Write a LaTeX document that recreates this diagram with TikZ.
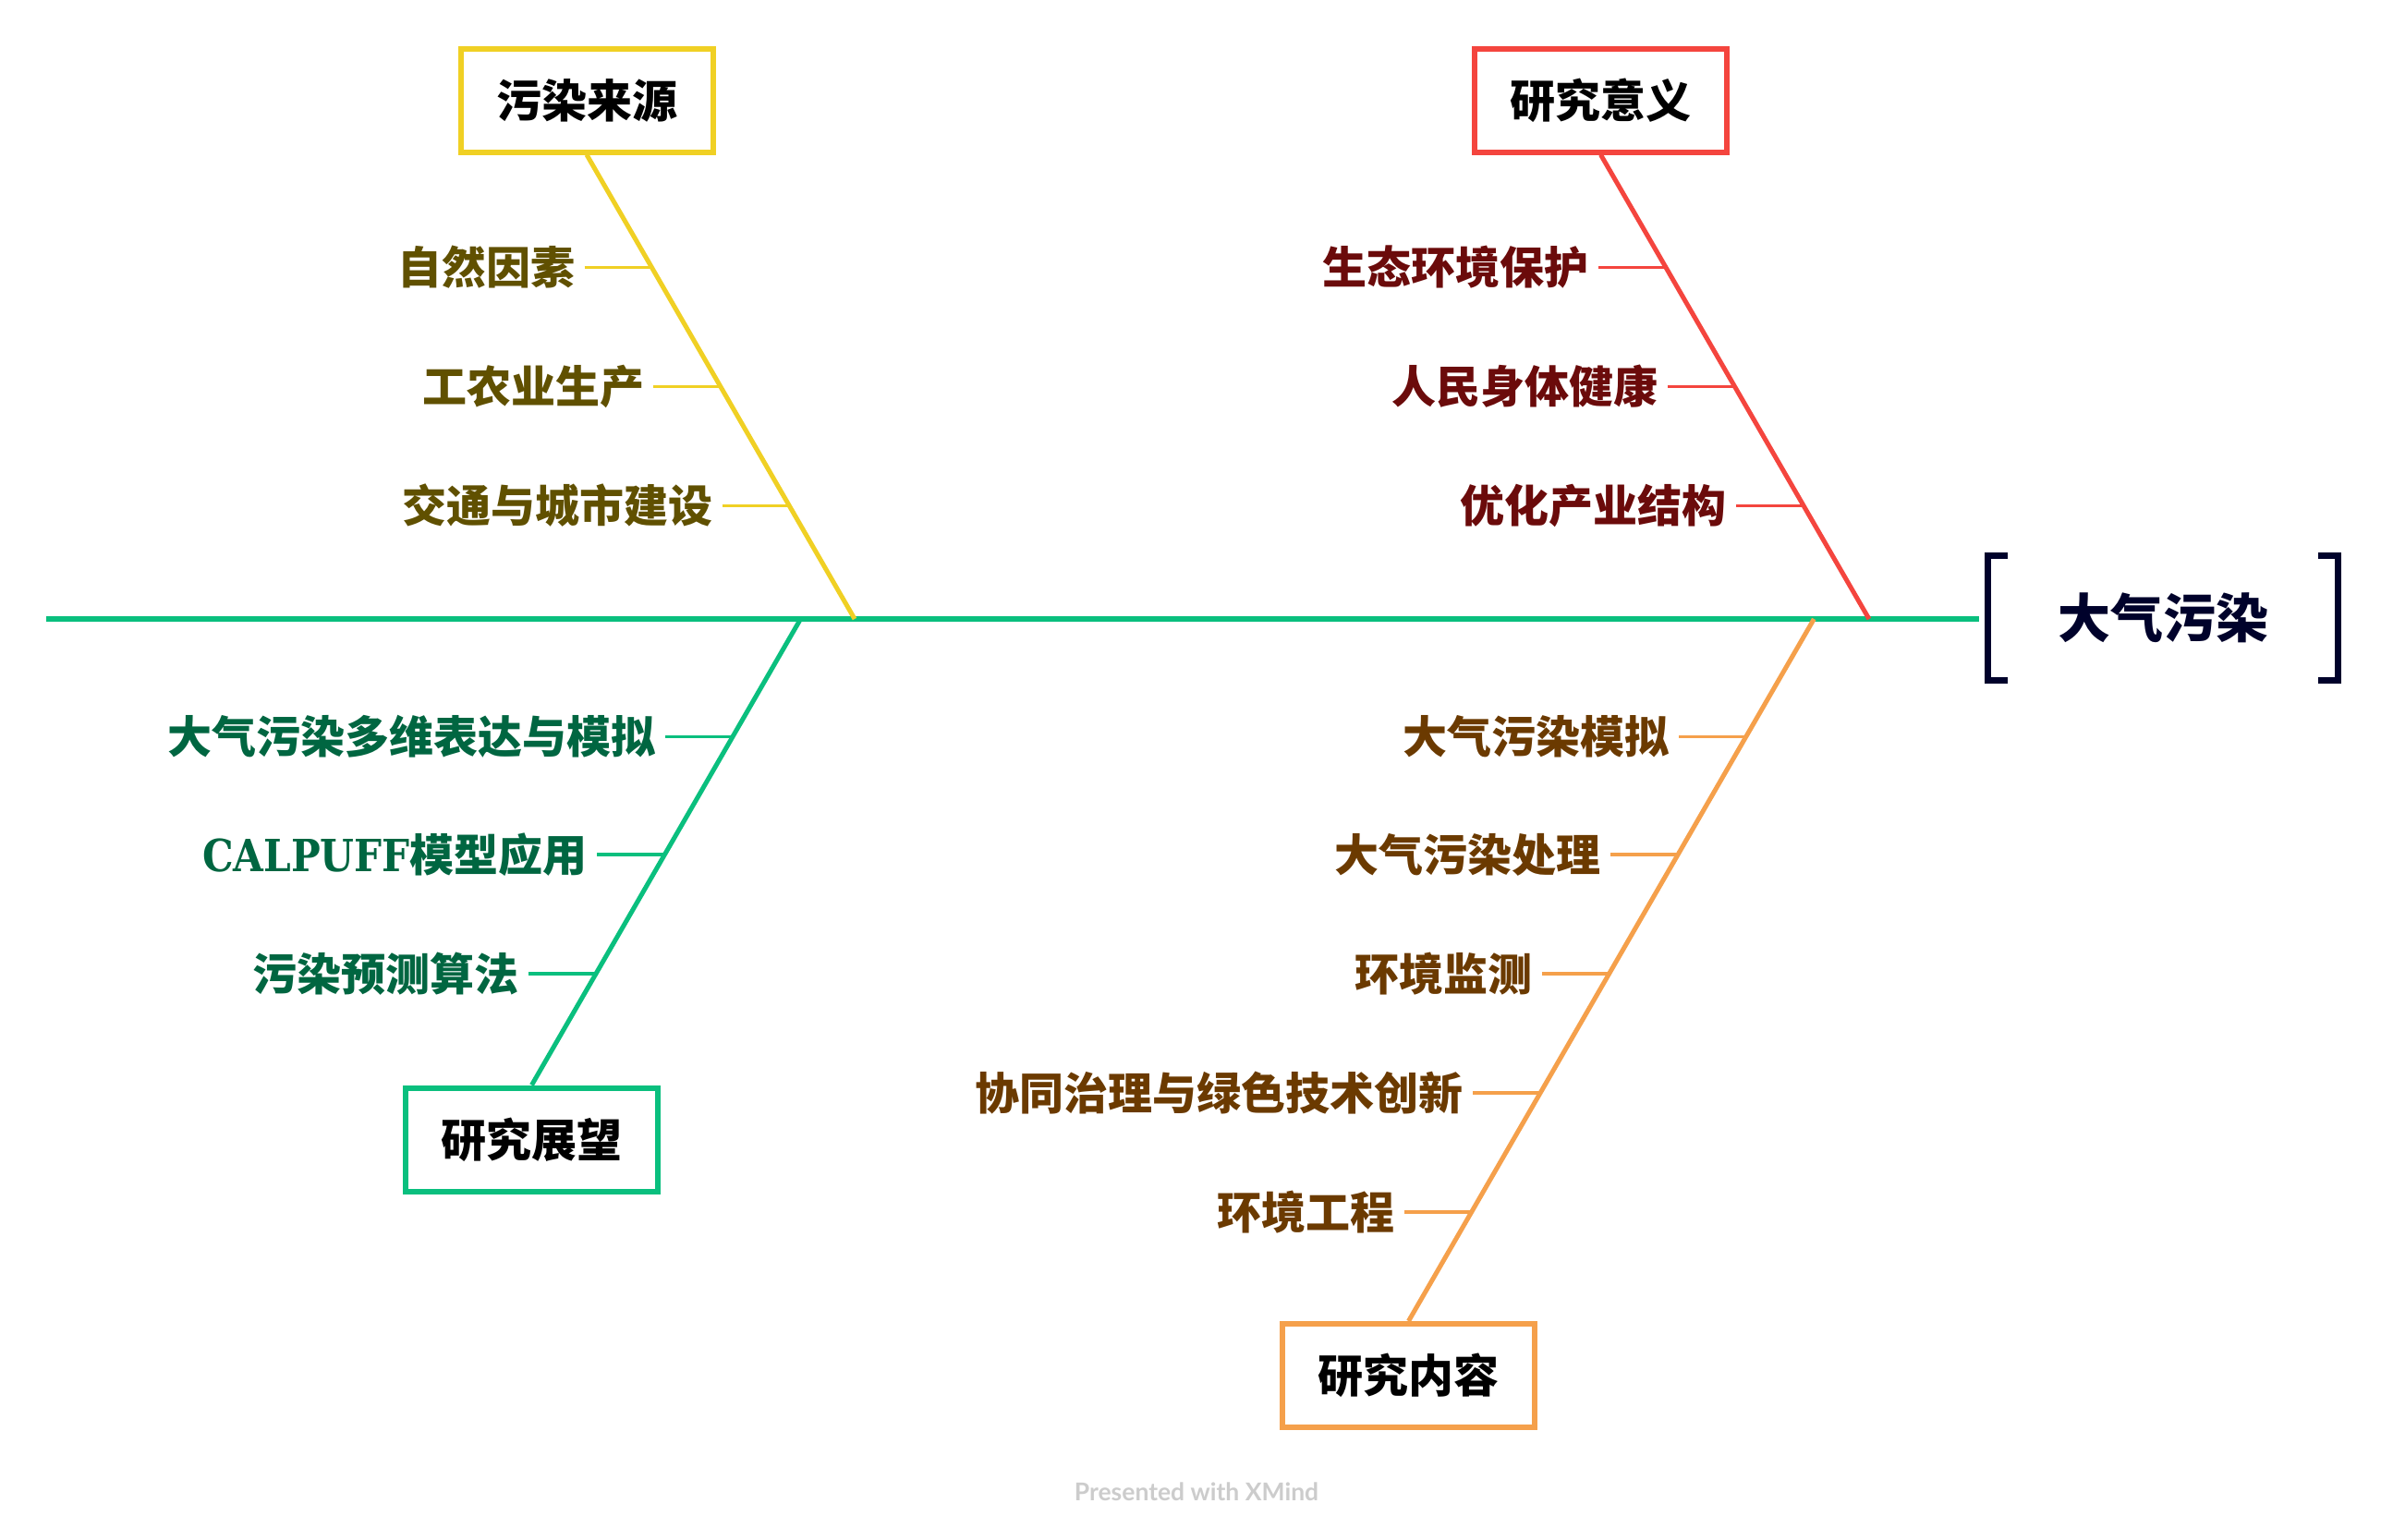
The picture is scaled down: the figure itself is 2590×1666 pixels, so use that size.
\documentclass[tikz,border=0pt]{standalone}
\usepackage{fontspec}
\newfontfamily\cjk{Noto Sans CJK SC}
\newfontfamily\slab[FakeStretch=0.88]{DejaVu Serif}
\newfontfamily\footfont{Lato}
\usetikzlibrary{calc}
\definecolor{ycol}{HTML}{F0D024}
\definecolor{ylab}{HTML}{605000}
\definecolor{rcol}{HTML}{F4453E}
\definecolor{rlab}{HTML}{6B0B0B}
\definecolor{gcol}{HTML}{0ABF7E}
\definecolor{glab}{HTML}{006641}
\definecolor{ocol}{HTML}{F5A04B}
\definecolor{olab}{HTML}{6B3A00}
\definecolor{rootcol}{HTML}{00022B}
\definecolor{footcol}{HTML}{CCCCCC}
\tikzset{
  topic/.style={draw, line width=6pt, fill=white, minimum width=273pt, minimum height=112pt, inner sep=0pt,
    font=\cjk\bfseries\fontsize{49}{59}\selectfont, text=black},
  lab/.style={anchor=east, inner sep=0pt, font=\cjk\bfseries\fontsize{48}{58}\selectfont},
  spineline/.style={line width=6pt, gcol},
  branch/.style={line width=5pt},
  tick/.style={line width=3.5pt},
}
\begin{document}
\begin{tikzpicture}[x=1pt,y=-1pt]
\useasboundingbox (0,0) rectangle (2590,1666);
\fill[white] (0,0) rectangle (2590,1666);

% root
\node[inner sep=0pt, minimum width=386pt, minimum height=142pt, text=rootcol,
  font=\cjk\bfseries\fontsize{57}{68}\selectfont] (root) at (2341,669) {大气污染};
\coordinate (spineL) at (50,670);
\draw[spineline] (spineL) -- ([xshift=-6pt]root.west |- spineL);
\draw[line width=7pt, rootcol, miter limit=10]
  ([xshift=25pt,yshift=-3.5pt]root.north west) -- ([xshift=3.5pt,yshift=-3.5pt]root.north west)
  -- ([xshift=3.5pt,yshift=3.5pt]root.south west) -- ([xshift=25pt,yshift=3.5pt]root.south west);
\draw[line width=7pt, rootcol, miter limit=10]
  ([xshift=-25pt,yshift=-3.5pt]root.north east) -- ([xshift=-3.5pt,yshift=-3.5pt]root.north east)
  -- ([xshift=-3.5pt,yshift=3.5pt]root.south east) -- ([xshift=-25pt,yshift=3.5pt]root.south east);

% ---------- yellow: 污染来源 ----------
\node[topic, draw=ycol] (ysrc) at (635,108.5) {污染来源};
\coordinate (yJ) at (925,670);
\draw[branch, ycol] (ysrc.south) -- (yJ);
\coordinate (yb1) at (705.7,289.5);
\coordinate (yb2) at (780.2,418.5);
\coordinate (yb3) at (854.7,547.5);
\node[lab, text=ylab] (y1) at (622.7,289.5) {自然因素};
\node[lab, text=ylab] (y2) at (697.2,418.5) {工农业生产};
\node[lab, text=ylab] (y3) at (771.7,547.5) {交通与城市建设};
\draw[tick, ycol] ([xshift=10pt]y1.east) -- (yb1);
\draw[tick, ycol] ([xshift=10pt]y2.east) -- (yb2);
\draw[tick, ycol] ([xshift=10pt]y3.east) -- (yb3);

% ---------- red: 研究意义 ----------
\node[topic, draw=rcol] (rsig) at (1732.5,108.5) {研究意义};
\coordinate (rJ) at (2022.9,670);
\draw[branch, rcol] (rsig.south) -- (rJ);
\coordinate (rb1) at (1803.2,289.5);
\coordinate (rb2) at (1877.7,418.5);
\coordinate (rb3) at (1952.2,547.5);
\node[lab, text=rlab] (r1) at (1720,289.5) {生态环境保护};
\node[lab, text=rlab] (r2) at (1795,418.5) {人民身体健康};
\node[lab, text=rlab] (r3) at (1869,547.5) {优化产业结构};
\draw[tick, rcol] ([xshift=10pt]r1.east) -- (rb1);
\draw[tick, rcol] ([xshift=10pt]r2.east) -- (rb2);
\draw[tick, rcol] ([xshift=10pt]r3.east) -- (rb3);

% ---------- green: 研究展望 ----------
\node[topic, draw=gcol] (gout) at (575.5,1233.5) {研究展望};
\coordinate (gJ) at (866.5,670);
\draw[branch, gcol] (gJ) -- (gout.north);
\coordinate (gb1) at (792.9,797.5);
\coordinate (gb2) at (719.3,925);
\coordinate (gb3) at (644.8,1054);
\node[lab, text=glab] (g1) at (710,797.5) {大气污染多维表达与模拟};
\node[lab, text=glab] (g2) at (636,925) {{\slab\bfseries CALPUFF}模型应用};
\node[lab, text=glab] (g3) at (562,1054) {污染预测算法};
\draw[tick, gcol] ([xshift=10pt]g1.east) -- (gb1);
\draw[tick, gcol] ([xshift=10pt]g2.east) -- (gb2);
\draw[tick, gcol] ([xshift=10pt]g3.east) -- (gb3);

% ---------- orange: 研究内容 ----------
\node[topic, draw=ocol] (ocon) at (1524.5,1489) {研究内容};
\coordinate (oJ) at (1963.3,670);
\draw[branch, ocol] (oJ) -- (ocon.north);
\coordinate (ob1) at (1889.7,797.5);
\coordinate (ob2) at (1816.1,925);
\coordinate (ob3) at (1741.6,1054);
\coordinate (ob4) at (1667.1,1183);
\coordinate (ob5) at (1592.6,1312);
\node[lab, text=olab] (o1) at (1807,797.5) {大气污染模拟};
\node[lab, text=olab] (o2) at (1733,925) {大气污染处理};
\node[lab, text=olab] (o3) at (1659,1054) {环境监测};
\node[lab, text=olab] (o4) at (1584,1183) {协同治理与绿色技术创新};
\node[lab, text=olab] (o5) at (1510,1312) {环境工程};
\draw[tick, ocol] ([xshift=10pt]o1.east) -- (ob1);
\draw[tick, ocol] ([xshift=10pt]o2.east) -- (ob2);
\draw[tick, ocol] ([xshift=10pt]o3.east) -- (ob3);
\draw[tick, ocol] ([xshift=10pt]o4.east) -- (ob4);
\draw[tick, ocol] ([xshift=10pt]o5.east) -- (ob5);

% footer
\node[inner sep=0pt, anchor=base, text=footcol, font=\footfont\bfseries\fontsize{26.5}{32}\selectfont] (foot) at (1295,1624) {Presented with XMind};
\end{tikzpicture}
\end{document}
